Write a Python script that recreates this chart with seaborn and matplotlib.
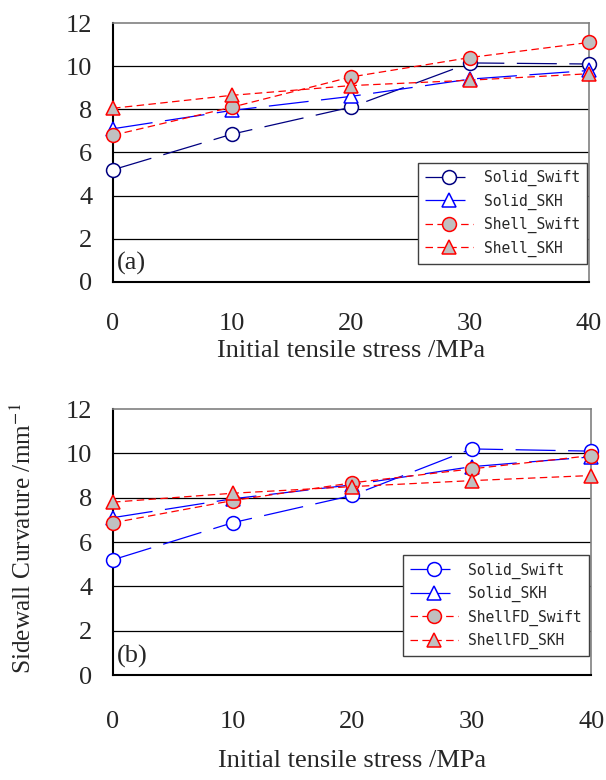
import numpy as np
import pandas as pd
import seaborn as sns
import matplotlib.pyplot as plt

# initial tensile stress (MPa)
stress = [0, 10, 20, 30, 40]

# panel (a)
a_solid_swift = [5.2, 6.85, 8.1, 10.15, 10.1]
a_solid_skh = [7.1, 7.95, 8.6, 9.4, 9.8]
a_shell_swift = [6.8, 8.1, 9.5, 10.4, 11.1]
a_shell_skh = [8.05, 8.65, 9.1, 9.35, 9.65]

# panel (b)
b_solid_swift = [5.2, 6.87, 8.1, 10.2, 10.1]
b_solid_skh = [7.1, 7.95, 8.58, 9.4, 9.84]
b_shellfd_swift = [6.87, 7.87, 8.67, 9.3, 9.9]
b_shellfd_skh = [7.8, 8.2, 8.5, 8.77, 9.0]

labels_a = ['Solid_Swift', 'Solid_SKH', 'Shell_Swift', 'Shell_SKH']
labels_b = ['Solid_Swift', 'Solid_SKH', 'ShellFD_Swift', 'ShellFD_SKH']

sns.set_style('white')
plt.rcParams['font.family'] = ['Liberation Serif', 'DejaVu Serif']
plt.rcParams['mathtext.fontset'] = 'stix'

long_dash = (0, (32, 10))
short_dash = (0, (6, 3.5))


def draw_panel(ax, series, labels, swift_color, tag, tick_pad, label_pad):
    styles = [
        dict(color=swift_color, marker='o', mfc='white', mec=swift_color, linestyle=long_dash),
        dict(color='#0000ff', marker='^', mfc='white', mec='#0000ff', linestyle=long_dash),
        dict(color='#ff0000', marker='o', mfc='#c0c0c0', mec='#ff0000', linestyle=short_dash),
        dict(color='#ff0000', marker='^', mfc='#c0c0c0', mec='#ff0000', linestyle=short_dash),
    ]
    for y, lab, st in zip(series, labels, styles):
        df = pd.DataFrame({'x': stress, 'y': y})
        sns.lineplot(data=df, x='x', y='y', ax=ax, label=lab, linewidth=0.9,
                     markersize=10, markeredgewidth=1.1, color=st['color'],
                     marker=st['marker'], markerfacecolor=st['mfc'],
                     markeredgecolor=st['mec'], linestyle=st['linestyle'],
                     clip_on=False, zorder=3)
    ax.set_xlim(0, 40)
    ax.set_ylim(0, 12)
    ax.set_xticks(stress)
    ax.set_yticks(np.arange(0, 13, 2))
    for yv in range(2, 12, 2):
        ax.axhline(yv, color='black', linewidth=0.9, zorder=1)
    ax.tick_params(axis='x', direction='in', length=8, width=1, pad=tick_pad,
                   labelsize=19, color='black')
    ax.tick_params(axis='y', direction='in', length=7, width=1.5, pad=15,
                   labelsize=19, color='black')
    for side in ['left', 'bottom']:
        ax.spines[side].set_color('black')
        ax.spines[side].set_linewidth(1.5)
    for side in ['top', 'right']:
        ax.spines[side].set_color('#808080')
        ax.spines[side].set_linewidth(1.2)
    ax.set_xlabel('Initial tensile stress /MPa', fontsize=19, labelpad=label_pad)
    ax.set_ylabel('')
    ax.text(0.008, 0.025, tag, transform=ax.transAxes, ha='left', va='bottom',
            fontsize=19)
    leg = ax.legend(loc='lower right', bbox_to_anchor=(0.996, 0.07),
                    prop={'family': 'DejaVu Sans Mono', 'size': 10.5},
                    handlelength=3.3, labelspacing=0.5, borderpad=0.5,
                    handletextpad=0.7, fancybox=False, framealpha=1,
                    edgecolor='#404040', borderaxespad=0)
    leg.get_frame().set_linewidth(1.0)
    return ax


fig = plt.figure(figsize=(6.06, 7.80), dpi=100)
ax1 = fig.add_axes([0.1865, 0.6385, 0.7855, 0.332])
ax2 = fig.add_axes([0.1865, 0.1346, 0.789, 0.341])

draw_panel(ax1, [a_solid_swift, a_solid_skh, a_shell_swift, a_shell_skh],
           labels_a, '#000080', '(a)', 22, 4)
draw_panel(ax2, [b_solid_swift, b_solid_skh, b_shellfd_swift, b_shellfd_skh],
           labels_b, '#0000ff', '(b)', 26, 12)

fig.text(0.038, 0.31, 'Sidewall Curvature /mm$^{-1}$', rotation=90,
         ha='center', va='center', fontsize=18.3)

fig.savefig('out.png', dpi=100)
